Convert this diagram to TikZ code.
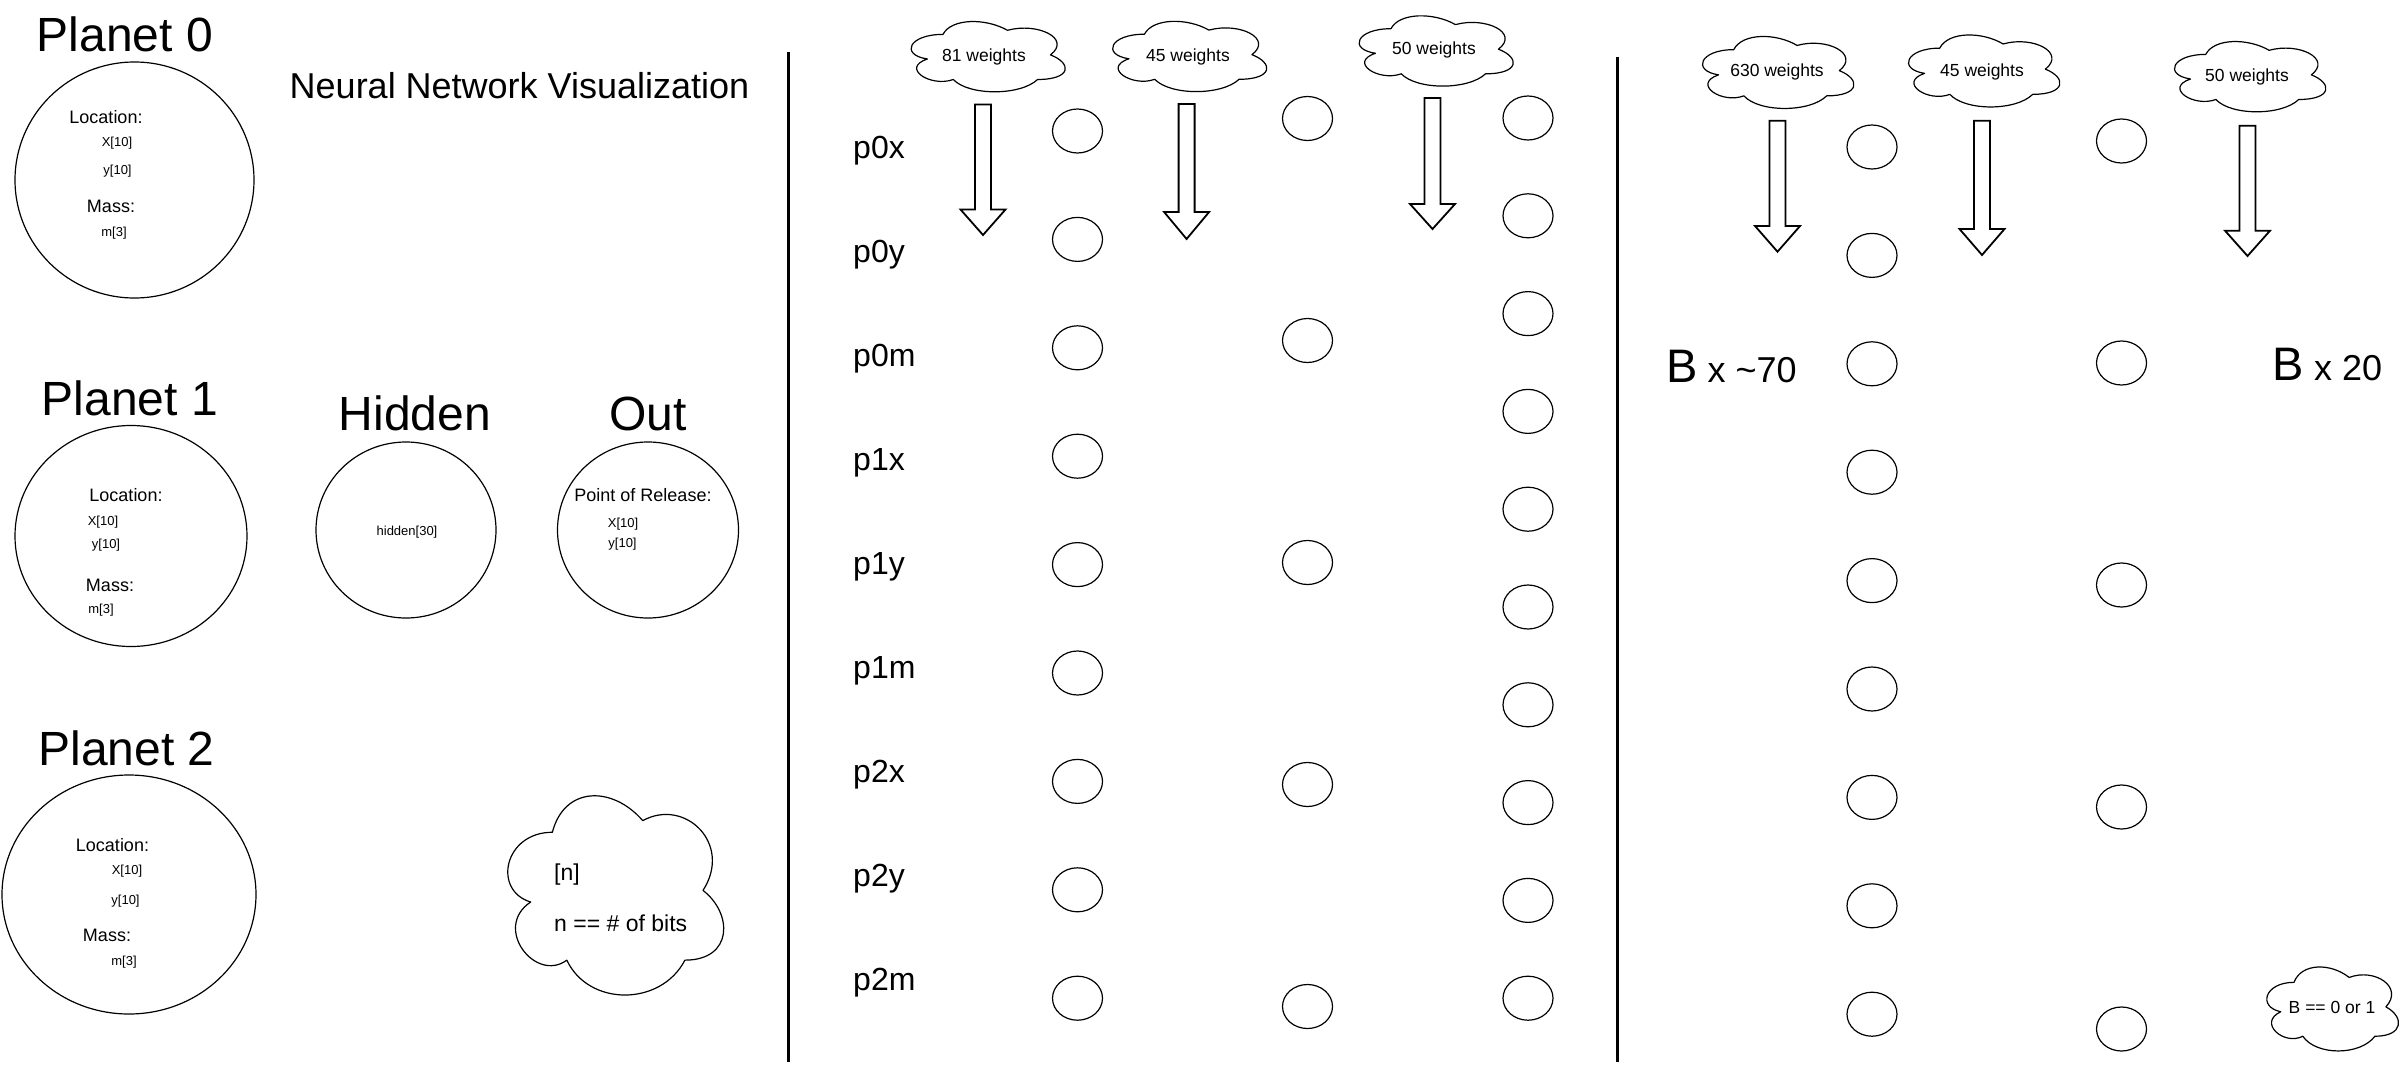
\documentclass[tikz,border=0pt]{standalone}
\usepackage{fontspec}
\setmainfont{Liberation Sans}
\usetikzlibrary{shapes.geometric}
\newcommand\myfs[1]{\fontsize{#1}{#1}\selectfont}
\newcommand\blockarr[4]{\draw[blockarrow] ({#1-8},#2) -- ({#1+8},#2) -- ({#1+8},#3) -- ({#1+22.5},#3) -- (#1,#4) -- ({#1-22.5},#3) -- ({#1-8},#3) -- cycle;}
% cloud in the manner of the drawing tool: name, visible centre x, y, cell width, cell height
\newcommand\ddcloud[5]{%
  \coordinate (#1) at (#2,#3);
  \begin{scope}[shift={({#2-0.512*#4},{#3-0.522*#5})},x=#4pt,y=-#5pt]
    \draw[cloudline] (0.25,0.25) .. controls (0.05,0.25) and (0,0.5) .. (0.16,0.55)
      .. controls (0,0.66) and (0.18,0.9) .. (0.31,0.8)
      .. controls (0.4,1) and (0.7,1) .. (0.8,0.8)
      .. controls (1,0.8) and (1,0.6) .. (0.875,0.5)
      .. controls (1,0.3) and (0.8,0.1) .. (0.625,0.2)
      .. controls (0.5,0.05) and (0.3,0.05) .. (0.25,0.25) -- cycle;
  \end{scope}}
\begin{document}
\begin{tikzpicture}[x=1pt,y=-1pt,
  planet/.style={draw,ellipse,line width=1.2pt,inner sep=0pt},
  neuron/.style={draw,ellipse,line width=1.2pt,inner sep=0pt,minimum width=50pt,minimum height=44pt},
  cloudline/.style={line width=1.2pt,line join=round},
  title/.style={font=\myfs{48},anchor=base,inner sep=0pt},
  mid/.style={font=\myfs{18},inner sep=0pt},
  small/.style={font=\myfs{13},inner sep=0pt},
  wlabel/.style={font=\myfs{17.5},inner sep=0pt},
  plabel/.style={font=\myfs{32},anchor=base west,inner sep=0pt},
  divider/.style={line width=3pt},
  blockarrow/.style={draw,line width=1.8pt,fill=white,line join=miter}]
\useasboundingbox (0,0) rectangle (2400,1065);

% ---------- left panel ----------
\node[title] (t0) at (125,52) {Planet 0};
\node[title] (t1) at (130,415) {Planet 1};
\node[title] (t2) at (126.5,765) {Planet 2};
\node[title] (th) at (415,430) {Hidden};
\node[title] (to) at (648,430) {Out};
\node[font=\myfs{36},anchor=base,inner sep=0pt] (nnv) at (519.5,98) {Neural Network Visualization};

\node[planet,minimum width=239pt,minimum height=236pt] (pl0) at (134.5,180) {};
\node[planet,minimum width=232pt,minimum height=221pt] (pl1) at (131,536) {};
\node[planet,minimum width=254pt,minimum height=239pt] (pl2) at (129,894.5) {};
\node[planet,minimum width=180pt,minimum height=176pt] (hid) at (406,530) {};
\node[planet,minimum width=181pt,minimum height=176pt] (out) at (648,530) {};

\node[mid] (l0a) at (106,117) {Location:};
\node[small] (l0b) at (117,143.5) {X[10]};
\node[small] (l0c) at (117.5,171) {y[10]};
\node[mid] (l0d) at (111,206.5) {Mass:};
\node[small] (l0e) at (114,233) {m[3]};

\node[mid] (l1a) at (126,495) {Location:};
\node[small] (l1b) at (103,521.7) {X[10]};
\node[small] (l1c) at (106,544.7) {y[10]};
\node[mid] (l1d) at (110,585) {Mass:};
\node[small] (l1e) at (101,610) {m[3]};

\node[mid] (l2a) at (112.5,845) {Location:};
\node[small] (l2b) at (127,871) {X[10]};
\node[small] (l2c) at (125.5,901) {y[10]};
\node[mid] (l2d) at (107,935) {Mass:};
\node[small] (l2e) at (124,962) {m[3]};

\node[small] (hl) at (407,532) {hidden[30]};
\node[mid] (ol1) at (643,495) {Point of Release:};
\node[small] (ol2) at (623,524) {X[10]};
\node[small] (ol3) at (622.5,544) {y[10]};

\ddcloud{cn}{615.5}{895.5}{241}{232.5}
\node[font=\myfs{23},anchor=west,inner sep=0pt] (cn1) at (554,875) {[n]};
\node[font=\myfs{23},anchor=west,inner sep=0pt] (cn2) at (554,923) {n == \# of bits};

% ---------- dividers ----------
\coordinate (d1t) at (788,52);
\coordinate (d1b) at (788,1062);
\coordinate (d2t) at (1617,57);
\coordinate (d2b) at (1617,1062);
\draw[divider] (d1t) -- (d1b);
\draw[divider] (d2t) -- (d2b);

% ---------- middle panel ----------
\ddcloud{w81}{988}{56.7}{172}{82}
\node[wlabel] (w81t) at (984,57) {81 weights};
\ddcloud{w45a}{1189.5}{56.5}{172}{82}
\node[wlabel] (w45at) at (1188,57) {45 weights};
\ddcloud{w50a}{1436}{51}{172}{82}
\node[wlabel] (w50at) at (1434,50) {50 weights};

\blockarr{983}{104.5}{209.5}{235}
\blockarr{1186.6}{104}{212}{239}
\blockarr{1432.5}{98}{204}{229}

\foreach \t [count=\i from 0] in {p0x,p0y,p0m,p1x,p1y,p1m,p2x,p2y,p2m}
  \node[plabel] (lab\i) at (853,{158+104*\i}) {\t};
\foreach \i in {0,...,8}
  \node[neuron] (m1\i) at (1077.5,{131+108.4*\i}) {};
\foreach \i in {0,...,4}
  \node[neuron] (m2\i) at (1307.5,{118.5+222*\i}) {};
\foreach \i in {0,...,9}
  \node[neuron] (m3\i) at (1528,{118+97.8*\i}) {};

% ---------- right panel ----------
\ddcloud{w630}{1778}{72.5}{169}{84}
\node[wlabel] (w630t) at (1777,72) {630 weights};
\ddcloud{w45b}{1984}{71}{169}{84}
\node[wlabel] (w45bt) at (1982,72) {45 weights};
\ddcloud{w50b}{2250}{76.7}{169}{82}
\node[wlabel] (w50bt) at (2247,77) {50 weights};

\blockarr{1777.5}{120.7}{226}{251.7}
\blockarr{1982}{120.7}{229}{255}
\blockarr{2247.5}{125.7}{230.7}{256}

\foreach \i in {0,...,8}
  \node[neuron] (rA\i) at (1872,{147+108.4*\i}) {};
\foreach \i in {0,...,4}
  \node[neuron] (rB\i) at (2121.5,{141+222*\i}) {};

\node[font=\myfs{36},anchor=base west,inner sep=0pt] (bx70) at (1666,382) {{\myfs{47}B} x \textasciitilde70};
\node[font=\myfs{36},anchor=base west,inner sep=0pt] (bx20) at (2272.5,380) {{\myfs{47}B} x 20};

\ddcloud{cb}{2332.5}{1009}{147}{98}
\node[wlabel] (cbt) at (2332,1007) {B == 0 or 1};
\end{tikzpicture}
\end{document}
